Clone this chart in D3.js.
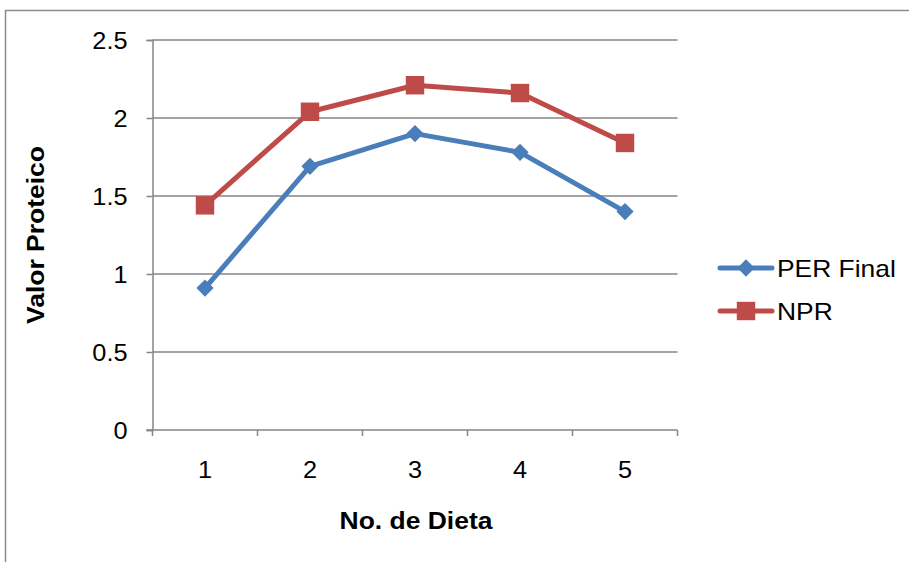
<!DOCTYPE html>
<html>
<head>
<meta charset="utf-8">
<script src="https://cdn.jsdelivr.net/npm/d3@7"></script>
<style>
  body { margin: 0; background: #fff; }
  svg { display: block; font-family: "Liberation Sans", Arial, sans-serif; }
</style>
</head>
<body>
<svg id="chart" width="909" height="562"></svg>
<script>
// Diet numbers and protein values per series
const dietas = ["1", "2", "3", "4", "5"];
const perFinal = [0.91, 1.69, 1.90, 1.78, 1.40];
const npr = [1.44, 2.04, 2.21, 2.16, 1.84];
const yTicks = [0, 0.5, 1, 1.5, 2, 2.5];
const seriesNames = ["PER Final", "NPR"];

const svg = d3.select("#chart");
const plotLeft = 152.5, plotRight = 677.5, plotTop = 40, plotBottom = 430;
const grey = "#868686";
const blue = "#4A7EBB", red = "#BE4B48";
const fontSize = 23;

// Widen glyphs slightly along the text direction
function widen(sel, factor) {
  sel.each(function () {
    const w = this.getComputedTextLength();
    d3.select(this).attr("textLength", w * factor).attr("lengthAdjust", "spacingAndGlyphs");
  });
}

// Frame lines
svg.append("line").attr("x1", 5).attr("x2", 909).attr("y1", 10.5).attr("y2", 10.5)
  .attr("stroke", "#8c8c8c").attr("stroke-width", 1.5);
svg.append("line").attr("x1", 5.5).attr("x2", 5.5).attr("y1", 10).attr("y2", 562)
  .attr("stroke", "#8c8c8c").attr("stroke-width", 1.5);

const x = d3.scaleBand().domain(dietas).range([plotLeft, plotRight]);
const y = d3.scaleLinear().domain([0, 2.5]).range([plotBottom, plotTop]);

// Horizontal gridlines
svg.append("g").selectAll("line").data(yTicks.filter(d => d > 0)).join("line")
  .attr("x1", plotLeft).attr("x2", plotRight)
  .attr("y1", d => y(d)).attr("y2", d => y(d))
  .attr("stroke", grey).attr("stroke-width", 1.5);

// Y axis
const yAxis = svg.append("g").attr("transform", `translate(${plotLeft},0)`)
  .call(d3.axisLeft(y).tickValues(yTicks).tickSize(6).tickPadding(19)
    .tickFormat(d => String(d)));
yAxis.select(".domain").attr("stroke", grey).attr("stroke-width", 1.5);
yAxis.selectAll(".tick line").attr("stroke", grey).attr("stroke-width", 1.5);
yAxis.selectAll("text").attr("font-size", fontSize).attr("fill", "#000")
  .attr("font-family", "Liberation Sans, Arial, sans-serif").attr("dy", "0.36em")
  .call(widen, 1.1);

// X axis with tick marks at category boundaries
const xAxis = svg.append("g").attr("transform", `translate(0,${plotBottom})`);
xAxis.append("line").attr("x1", plotLeft - 6).attr("x2", plotRight).attr("y1", 0).attr("y2", 0)
  .attr("stroke", grey).attr("stroke-width", 1.5);
const boundaries = dietas.map(d => x(d)).concat([plotRight]);
xAxis.selectAll(".bt").data(boundaries).join("line").attr("class", "bt")
  .attr("x1", d => d).attr("x2", d => d).attr("y1", 0).attr("y2", 6)
  .attr("stroke", grey).attr("stroke-width", 1.5);
xAxis.selectAll(".lbl").data(dietas).join("text").attr("class", "lbl")
  .attr("x", d => x(d) + x.bandwidth() / 2).attr("y", 48)
  .attr("text-anchor", "middle").attr("font-size", fontSize).text(d => d)
  .call(widen, 1.1);

// Axis titles
svg.append("text").attr("x", 416).attr("y", 529).attr("text-anchor", "middle")
  .attr("font-size", fontSize).attr("font-weight", "bold").text("No. de Dieta")
  .call(widen, 1.15);
svg.append("text").attr("transform", "translate(44,235) rotate(-90)")
  .attr("text-anchor", "middle").attr("font-size", fontSize).attr("font-weight", "bold")
  .text("Valor Proteico")
  .call(widen, 1.15);

const cx = d => x(d) + x.bandwidth() / 2;
const line = d3.line().x(d => cx(d.k)).y(d => y(d.v));
const toPts = arr => arr.map((v, i) => ({ k: dietas[i], v }));

const diamond = d3.symbol().type(d3.symbolDiamond2).size(190);
const square = d3.symbol().type(d3.symbolSquare).size(340);

// PER Final series
svg.append("path").datum(toPts(perFinal)).attr("d", line)
  .attr("fill", "none").attr("stroke", blue).attr("stroke-width", 5)
  .attr("stroke-linejoin", "round").attr("stroke-linecap", "round");
svg.append("g").selectAll("path").data(toPts(perFinal)).join("path")
  .attr("d", diamond).attr("fill", blue)
  .attr("transform", d => `translate(${cx(d.k)},${y(d.v)})`);

// NPR series
svg.append("path").datum(toPts(npr)).attr("d", line)
  .attr("fill", "none").attr("stroke", red).attr("stroke-width", 5)
  .attr("stroke-linejoin", "round").attr("stroke-linecap", "round");
svg.append("g").selectAll("path").data(toPts(npr)).join("path")
  .attr("d", square).attr("fill", red)
  .attr("transform", d => `translate(${cx(d.k)},${y(d.v)})`);

// Legend
const legend = svg.append("g");
const colors = [blue, red];
const symbols = [diamond, square];
seriesNames.forEach((name, i) => {
  const ly = 268 + i * 43;
  legend.append("line").attr("x1", 720).attr("x2", 772).attr("y1", ly).attr("y2", ly)
    .attr("stroke", colors[i]).attr("stroke-width", 5).attr("stroke-linecap", "round");
  legend.append("path").attr("d", symbols[i]).attr("fill", colors[i])
    .attr("transform", `translate(746,${ly})`);
  legend.append("text").attr("x", 777).attr("y", ly + 9).attr("font-size", fontSize + 1)
    .text(name).call(widen, 1.1);
});
</script>
</body>
</html>
